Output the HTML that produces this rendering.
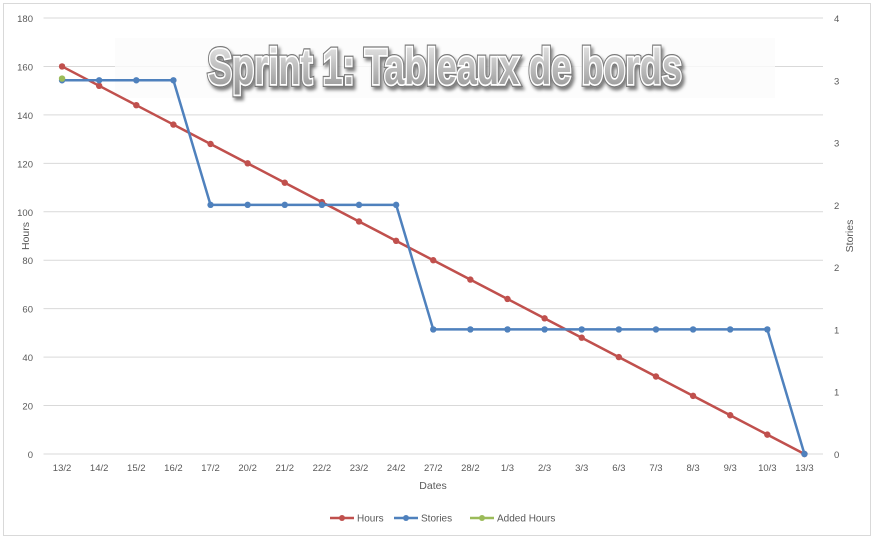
<!DOCTYPE html>
<html><head><meta charset="utf-8"><style>
body{margin:0;background:#fff;}
svg{display:block;font-family:"Liberation Sans",sans-serif;}
</style></head><body>
<svg id="chart" width="876" height="542" xmlns="http://www.w3.org/2000/svg">
<defs>
<linearGradient id="tg" x1="0" y1="0" x2="0" y2="1"><stop offset="0" stop-color="#eeeeee"/><stop offset="1" stop-color="#8f8f8f"/></linearGradient>
<filter id="sh" x="-5%" y="-20%" width="110%" height="150%"><feDropShadow dx="2" dy="3" stdDeviation="1.5" flood-color="#000" flood-opacity="0.5"/></filter>
</defs>
<rect x="3.5" y="3.5" width="867" height="532" fill="#fff" stroke="#d9d9d9"/>
<g id="grid"></g>
<rect x="115" y="38" width="660" height="60" fill="#fbfbfb" opacity="0.8"/>
<g id="series"></g>
<g filter="url(#sh)">
<text x="445" y="84" text-anchor="middle" textLength="474" lengthAdjust="spacingAndGlyphs" font-family="'Liberation Sans Narrow','Liberation Sans',sans-serif" font-weight="bold" font-size="50" fill="none" stroke="#7a7a7a" stroke-width="6">Sprint 1: Tableaux de bords</text>
<text x="445" y="84" text-anchor="middle" textLength="474" lengthAdjust="spacingAndGlyphs" font-family="'Liberation Sans Narrow','Liberation Sans',sans-serif" font-weight="bold" font-size="50" fill="url(#tg)" stroke="#fff" stroke-width="3.5" paint-order="stroke">Sprint 1: Tableaux de bords</text>
</g>
<text transform="translate(29,236) rotate(-90)" text-anchor="middle" font-size="10.5" fill="#595959">Hours</text>
<text transform="translate(853,236) rotate(-90)" text-anchor="middle" font-size="10.5" fill="#595959">Stories</text>
<text x="433" y="489" text-anchor="middle" font-size="10.5" fill="#595959">Dates</text>
<g font-size="10" fill="#595959">
<g><line x1="330" y1="518" x2="354" y2="518" stroke="#c0504d" stroke-width="2.5"/><circle cx="342" cy="518" r="3" fill="#c0504d"/><text x="357" y="521.5">Hours</text></g>
<g><line x1="394" y1="518" x2="418" y2="518" stroke="#4f81bd" stroke-width="2.5"/><circle cx="406" cy="518" r="3" fill="#4f81bd"/><text x="421" y="521.5">Stories</text></g>
<g><line x1="470" y1="518" x2="494" y2="518" stroke="#9bbb59" stroke-width="2.5"/><circle cx="482" cy="518" r="3" fill="#9bbb59"/><text x="497" y="521.5">Added Hours</text></g>
</g>
</svg>
<script>
const categories=["13/2","14/2","15/2","16/2","17/2","20/2","21/2","22/2","23/2","24/2","27/2","28/2","1/3","2/3","3/3","6/3","7/3","8/3","9/3","10/3","13/3"];
const hours=[160,152,144,136,128,120,112,104,96,88,80,72,64,56,48,40,32,24,16,8,0];
const stories=[3,3,3,3,2,2,2,2,2,2,1,1,1,1,1,1,1,1,1,1,0];
const addedHours=[155];
const leftTicks=[0,20,40,60,80,100,120,140,160,180];
const rightTicks=[0,0.5,1,1.5,2,2.5,3,3.5];
const rightLabels=["0","1","1","2","2","3","3","4"];

const NS="http://www.w3.org/2000/svg";
const X0=43.5,X1=823,Y0=454,Y1=18;
const step=(X1-X0)/categories.length;
function xs(i){return X0+step*(i+0.5);}
function yl(v){return Y0-(v/180)*(Y0-Y1);}
function yr(v){return Y0-(v/3.5)*(Y0-Y1);}
function mk(tag,attrs,parent){const e=document.createElementNS(NS,tag);for(const k in attrs)e.setAttribute(k,attrs[k]);parent.appendChild(e);return e;}
const grid=document.getElementById('grid');
leftTicks.forEach(v=>{
  const l=mk('line',{x1:X0,x2:X1,y1:yl(v),y2:yl(v),stroke:'#d9d9d9','stroke-width':1},grid);
  
  
  const t=mk('text',{x:33,y:yl(v)+4,'text-anchor':'end','font-size':9.5,fill:'#595959'},grid);
  t.textContent=v;
  
  
});
rightTicks.forEach((v,i)=>{
  const t=mk('text',{x:834,y:yr(v)+4,'font-size':9.5,fill:'#595959'},grid);
  t.textContent=rightLabels[i];
  
  
});
categories.forEach((c,i)=>{
  const t=mk('text',{x:xs(i),y:471,'text-anchor':'middle','font-size':9.5,fill:'#595959'},grid);
  t.textContent=c;
  
  
});
const g=document.getElementById('series');
function series(vals,yf,color,name){
  const pts=vals.map((v,i)=>xs(i)+','+yf(v)).join(' ');
  const pl=mk('polyline',{points:pts,fill:'none',stroke:color,'stroke-width':2.5,'stroke-linejoin':'round'},g);
  
  
  vals.forEach((v,i)=>{
    const c=mk('circle',{cx:xs(i),cy:yf(v),r:3.2,fill:color},g);
    
    
  });
}
series(hours,yl,'#c0504d','hours');
series(stories,yr,'#4f81bd','stories');
series(addedHours,yl,'#9bbb59','added-hours');
</script>
</body></html>
